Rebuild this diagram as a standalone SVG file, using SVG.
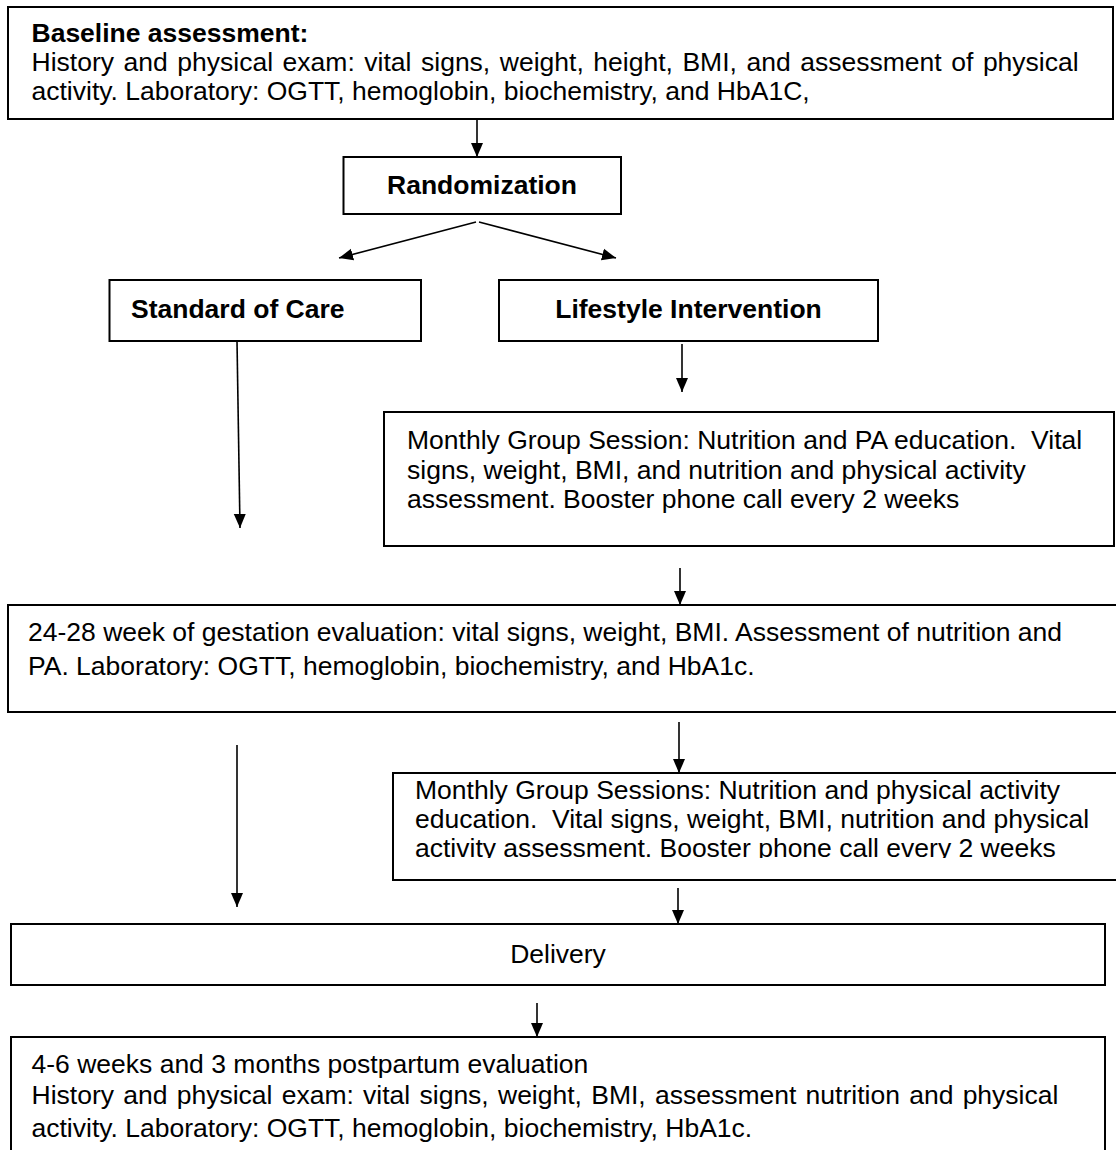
<svg xmlns="http://www.w3.org/2000/svg" width="1116" height="1150" viewBox="0 0 1116 1150">
<style>
  .box { fill: #ffffff; stroke: #000000; stroke-width: 2; }
  .t { font-family: "Liberation Sans", Arial, sans-serif; font-size: 26.5px; fill: #000000; }
  .b { font-weight: bold; }
  .conn { stroke: #000000; stroke-width: 1.6; fill: none; marker-end: url(#ah); }
</style>
<defs>
  <marker id="ah" markerUnits="userSpaceOnUse" markerWidth="14" markerHeight="14" viewBox="0 0 14 14" refX="14" refY="7" orient="auto">
    <path d="M0,1 L14,7 L0,13 z" fill="#000000"/>
  </marker>
  <clipPath id="clipM2">
    <rect x="393" y="773" width="730" height="85"/>
  </clipPath>
</defs>
<rect x="0" y="0" width="1116" height="1150" fill="#ffffff"/>

<g id="connectors">
  <line class="conn" x1="477" y1="119" x2="477" y2="157"/>
  <line class="conn" x1="476" y1="222" x2="339" y2="258"/>
  <line class="conn" x1="479" y1="222" x2="616" y2="258"/>
  <line class="conn" x1="237" y1="341" x2="240" y2="528"/>
  <line class="conn" x1="682" y1="344" x2="682" y2="392"/>
  <line class="conn" x1="680" y1="568" x2="680" y2="605"/>
  <line class="conn" x1="679" y1="722" x2="679" y2="773"/>
  <line class="conn" x1="237" y1="745" x2="237" y2="907"/>
  <line class="conn" x1="678" y1="888" x2="678" y2="924"/>
  <line class="conn" x1="537" y1="1003" x2="537" y2="1037"/>
</g>

<g id="baseline">
  <rect class="box" x="8" y="7" width="1105" height="112"/>
  <text class="t b" x="31.5" y="42">Baseline assessment:</text>
  <text class="t" x="31.5" y="71" word-spacing="2.2">History and physical exam: vital signs, weight, height, BMI, and assessment of physical</text>
  <text class="t" x="31.5" y="100">activity. Laboratory: OGTT, hemoglobin, biochemistry, and HbA1C,</text>
</g>

<g id="randomization">
  <rect class="box" x="343.5" y="157" width="277.5" height="57"/>
  <text class="t b" x="482" y="194" text-anchor="middle">Randomization</text>
</g>

<g id="standard">
  <rect class="box" x="109.5" y="280" width="311.5" height="61"/>
  <text class="t b" x="131" y="318">Standard of Care</text>
</g>

<g id="lifestyle">
  <rect class="box" x="499" y="280" width="379" height="61"/>
  <text class="t b" x="688.5" y="318" text-anchor="middle">Lifestyle Intervention</text>
</g>

<g id="monthly1">
  <rect class="box" x="384" y="412" width="730" height="134"/>
  <text class="t" x="407" y="449" xml:space="preserve">Monthly Group Session: Nutrition and PA education.  Vital</text>
  <text class="t" x="407" y="479">signs, weight, BMI, and nutrition and physical activity</text>
  <text class="t" x="407" y="508">assessment. Booster phone call every 2 weeks</text>
</g>

<g id="evaluation2428">
  <rect class="box" x="8" y="605" width="1112" height="107"/>
  <text class="t" x="28" y="641">24-28 week of gestation evaluation: vital signs, weight, BMI. Assessment of nutrition and</text>
  <text class="t" x="28" y="675">PA. Laboratory: OGTT, hemoglobin, biochemistry, and HbA1c.</text>
</g>

<g id="monthly2">
  <rect class="box" x="393" y="773" width="730" height="107"/>
  <g clip-path="url(#clipM2)">
    <text class="t" x="415" y="799">Monthly Group Sessions: Nutrition and physical activity</text>
    <text class="t" x="415" y="828" xml:space="preserve">education.  Vital signs, weight, BMI, nutrition and physical</text>
    <text class="t" x="415" y="857">activity assessment. Booster phone call every 2 weeks</text>
  </g>
</g>

<g id="delivery">
  <rect class="box" x="11" y="924" width="1094" height="61"/>
  <text class="t" x="558" y="963" text-anchor="middle">Delivery</text>
</g>

<g id="postpartum">
  <rect class="box" x="11" y="1037" width="1094" height="130"/>
  <text class="t" x="31.5" y="1073">4-6 weeks and 3 months postpartum evaluation</text>
  <text class="t" x="31.5" y="1104" word-spacing="1.9">History and physical exam: vital signs, weight, BMI, assessment nutrition and physical</text>
  <text class="t" x="31.5" y="1137">activity. Laboratory: OGTT, hemoglobin, biochemistry, HbA1c.</text>
</g>
</svg>
